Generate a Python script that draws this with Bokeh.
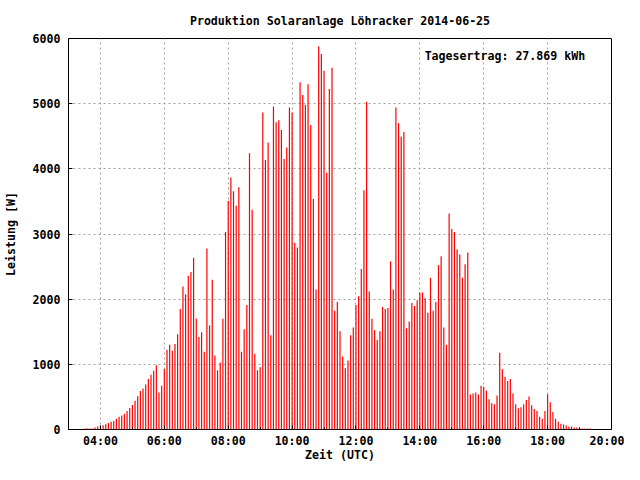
from bokeh.plotting import figure
from bokeh.models import Range1d, FixedTicker, Label, ColumnDataSource
from bokeh.embed import file_html
from bokeh.resources import INLINE

# --- data -------------------------------------------------------------
start_hour = 3.5          # first sample 03:30 UTC
step_minutes = 5          # one sample every 5 minutes

leistung = [
    15, 15, 15, 15, 30, 45, 60, 65, 80, 100, 120, 135, 165, 195, 215, 240, 285, 330, 375, 440,
    510, 590, 630, 690, 775, 840, 900, 985,
    567, 672, 930, 1224, 1299, 1209, 1313, 1463, 1851, 2194, 2075, 2358, 2418, 2637, 1701, 1418,
    1493, 1194, 2776, 1597, 2298, 1134, 910, 1030, 1701, 3030, 3507, 3866, 3657, 3433, 3716, 1194,
    1537, 1910,
    4239, 3373, 1164, 910, 955, 4866, 4134, 4403, 1448, 4955, 4716, 4746, 4597, 4149, 4328, 4940,
    4866, 2866, 2791, 5328, 5134, 4985, 5298, 4672, 3537, 2149, 5880, 5761, 5507, 3940, 5224, 5552,
    1821, 1955,
    1507, 1119, 940, 1060, 1448, 1567, 1910, 2045, 2463, 3672, 5030, 2119, 1701, 1522, 1373, 1507,
    1881, 1851, 1866, 2582, 2149, 4940, 4701, 4492, 4567, 1552, 1657, 1940, 1895, 1985, 2104, 2104,
    2015, 1791, 2328,
    1821, 1955, 2522, 2657, 1567, 1299, 3313, 3075, 3030, 2761, 2687, 2328, 2537, 2716,
    537, 552, 567, 537, 672, 657, 597, 463, 403, 388, 522, 1179, 925, 806, 746, 776, 552, 388,
    328, 343, 388, 453, 507, 373, 313, 284, 194, 164, 284, 542, 418, 269, 164, 119, 90, 75, 60,
    45, 45, 30, 30, 30, 15, 15, 15, 15,
]
zeit_h = [start_hour + i * step_minutes / 60 for i in range(len(leistung))]

x_ticks = [4, 6, 8, 10, 12, 14, 16, 18, 20]
x_tick_labels = ["04:00", "06:00", "08:00", "10:00", "12:00", "14:00", "16:00", "18:00", "20:00"]
x_minor = [3, 5, 7, 9, 11, 13, 15, 17, 19]
y_ticks = [0, 1000, 2000, 3000, 4000, 5000, 6000]

title_text = "Produktion Solaranlage Löhracker 2014-06-25"
ertrag_text = "Tagesertrag: 27.869 kWh"
x_label_text = "Zeit (UTC)"
y_label_text = "Leistung [W]"

# --- plot -------------------------------------------------------------
FONT = "DejaVu Sans Mono"
FS = "11.6px"

p = figure(width=624, height=464, output_backend="svg", toolbar_location=None,
           x_range=Range1d(3, 20), y_range=Range1d(0, 6000),
           min_border_left=60, min_border_right=13, min_border_top=30, min_border_bottom=0,
           x_axis_label=x_label_text, y_axis_label=y_label_text)

p.title.text = title_text
p.title.align = "center"
p.title.text_font = FONT
p.title.text_font_size = FS
p.title.text_font_style = "bold"
p.title.text_color = "black"
p.title.standoff = 22

src = ColumnDataSource(dict(t=zeit_h, v=leistung))
p.segment(x0="t", y0=0, x1="t", y1="v", source=src, line_color="#ff0000", line_width=1.2)

xt = FixedTicker(ticks=x_ticks, minor_ticks=x_minor)
yt = FixedTicker(ticks=y_ticks, minor_ticks=[])

for ax in p.xaxis:
    ax.ticker = xt
    ax.major_label_overrides = {t: l for t, l in zip(x_ticks, x_tick_labels)}
for ax in p.yaxis:
    ax.ticker = yt

for ax in list(p.xaxis) + list(p.yaxis):
    ax.axis_line_color = None
    ax.major_tick_in = 4
    ax.major_tick_out = 0
    ax.minor_tick_in = 2
    ax.minor_tick_out = 0
    ax.major_tick_line_color = "black"
    ax.minor_tick_line_color = "black"
    ax.major_label_text_font = FONT
    ax.major_label_text_font_size = FS
    ax.major_label_text_font_style = "bold"
    ax.major_label_text_color = "black"
    ax.axis_label_text_font = FONT
    ax.axis_label_text_font_size = FS
    ax.axis_label_text_font_style = "bold"
    ax.axis_label_text_color = "black"

p.xaxis.major_label_standoff = 4
p.xaxis.axis_label_standoff = -3
p.yaxis.major_label_standoff = 8
p.yaxis.axis_label_standoff = 12

p.xgrid.ticker = xt
p.ygrid.ticker = yt
for g in (p.xgrid, p.ygrid):
    g.grid_line_color = "#a0a0a0"
    g.grid_line_dash = "2 3"
    g.grid_line_width = 1

p.outline_line_color = "black"
p.outline_line_width = 1
p.background_fill_color = "white"
p.border_fill_color = "white"

p.add_layout(Label(x=14.15, y=5730, text=ertrag_text, text_font=FONT, text_font_size=FS,
                   text_font_style="bold", text_baseline="middle", text_color="black"))

open("out.html", "w").write(file_html(p, INLINE))
